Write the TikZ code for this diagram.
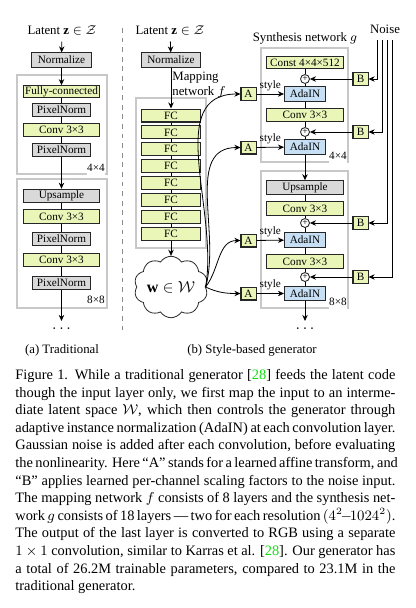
\documentclass[tikz,border=0pt]{standalone}
\usepackage{fontspec}
\setmainfont{Liberation Serif}
\usetikzlibrary{arrows.meta,shapes.symbols}
\definecolor{Lime}{HTML}{EAF6B8}
\definecolor{Sky}{HTML}{C6DFF4}
\definecolor{Ash}{HTML}{D9D9D9}
\definecolor{Rim}{HTML}{C8C8C8}
\definecolor{Cite}{HTML}{10E010}
\newcommand{\capline}[1]{\hbox to 237.5pt{#1}}

\begin{document}
\begin{tikzpicture}[x=0.625pt,y=-0.625pt,line width=.5pt,
>={Stealth[length=3.8pt,width=3.4pt]},
box/.style={draw=black!85,line width=.65pt,fill=#1,inner sep=0pt,minimum height=8.4pt,
  font=\fontsize{7}{8}\selectfont},
gbox/.style={box=Ash},
lbox/.style={box=Lime},
bbox/.style={box=Sky},
wide/.style={minimum width=48pt},
mid/.style={minimum width=36pt},
narrow/.style={minimum width=25.6pt},
tiny/.style={minimum width=9.4pt,minimum height=8.1pt},
frame/.style={draw=Rim,line width=.8pt},
sum/.style={draw=black!85,line width=.55pt,circle,fill=white,inner sep=0pt,minimum size=5.6pt,
  font=\fontsize{6}{6}\selectfont},
lbl/.style={font=\fontsize{8}{9.5}\selectfont},
dots/.style={font=\fontsize{10}{10}\selectfont}]
\useasboundingbox (0,0) rectangle (415,608);

% (a) traditional
\draw[frame] (17,75) rectangle (107,174);
\draw[frame] (17,179) rectangle (107,308);
\path
(62,31) node[lbl] (latA) {Latent $\mathbf{z}\in\mathcal{Z}$}
(61.5,60) node[gbox,minimum width=37pt,minimum height=8.8pt] (normA) {Normalize}
(61.5,91.5) node[lbox,wide,minimum height=7.2pt] (fcA) {Fully-connected}
(61.5,110) node[gbox,mid] (pnA1) {PixelNorm}
(61.5,130) node[lbox,wide] (cvA1) {Conv 3×3}
(61.5,150) node[gbox,mid] (pnA2) {PixelNorm}
(96,168) node[box=white,draw=none] {4×4}
(61.5,196) node[gbox,wide] (upA) {Upsample}
(61.5,216.5) node[lbox,wide] (cvA2) {Conv 3×3}
(61.5,239) node[gbox,mid] (pnA3) {PixelNorm}
(61.5,260) node[lbox,wide] (cvA3) {Conv 3×3}
(61.5,283) node[gbox,mid] (pnA4) {PixelNorm}
(96,300) node[box=white,draw=none] {8×8}
(61.5,329) node[dots] (dotA) {$\dots$}
(62,350) node[lbl] (capA) {(a) Traditional}
;
\coordinate (endA) at (61.5,321);
\draw[->] (latA) -- (normA);
\draw[->] (normA) -- (fcA);
\draw (fcA) -- (pnA1) -- (cvA1) -- (pnA2);
\draw[->] (pnA2) -- (upA);
\draw (upA) -- (cvA2) -- (pnA3) -- (cvA3) -- (pnA4);
\draw[->] (pnA4) -- (endA);

\draw[dashed,black!45] (122,28) -- (122,333);

% (b) mapping network
\draw[frame] (136,98) rectangle (206,248);
\path
(170,31) node[lbl] (latB) {Latent $\mathbf{z}\in\mathcal{Z}$}
(171,60) node[gbox,minimum width=37pt,minimum height=8.8pt] (normB) {Normalize}
(172,85) node[lbl,anchor=west,align=left,inner sep=0pt] (mapB) {Mapping\\network $f$}
(171,287) node[draw=black!85,cloud,cloud puffs=10,cloud puff arc=115,aspect=1.3,
  minimum width=44pt,minimum height=35pt,inner sep=0pt,
  font=\fontsize{10}{10}\selectfont] (wB) {$\mathbf{w}\in\mathcal{W}$}
;
\foreach \i in {1,...,8}
  \node[lbox,minimum width=36.3pt,minimum height=8.1pt] (fc\i) at (171,98.6+16.9*\i) {FC};
\foreach \i [count=\j from 2] in {1,...,7}
  \draw (fc\i) -- (fc\j);
\draw[->] (latB) -- (normB);
\draw[->] (normB) -- (fc1);
\draw[->] (fc8) -- (wB);

% (b) synthesis network
\draw[frame] (261,48) rectangle (348,162);
\draw[frame] (261,171) rectangle (348,308);
\path
(305,38) node[lbl] (synB) {Synthesis network $g$}
(385,29) node[lbl] (noise) {Noise}
(305,62.5) node[lbox,wide,minimum height=7.2pt] (const) {Const 4×4×512}
(305,79) node[sum] (sum1) {+}
(305,94) node[bbox,narrow,minimum height=8.8pt] (ada1) {AdaIN}
(305,115) node[lbox,wide] (cvS1) {Conv 3×3}
(305,132) node[sum] (sum2) {+}
(305,147) node[bbox,narrow,minimum height=8.8pt] (ada2) {AdaIN}
(338,156) node[box=white,draw=none] {4×4}
(305,187.5) node[gbox,wide] (upS) {Upsample}
(305,208.5) node[lbox,wide] (cvS2) {Conv 3×3}
(305,223) node[sum] (sum3) {+}
(305,240) node[bbox,narrow,minimum height=8.8pt] (ada3) {AdaIN}
(305,261.5) node[lbox,wide] (cvS3) {Conv 3×3}
(305,277) node[sum] (sum4) {+}
(305,293.5) node[bbox,narrow,minimum height=8.8pt] (ada4) {AdaIN}
(338,302) node[box=white,draw=none] {8×8}
(305,329) node[dots] (dotB) {$\dots$}
(252,350) node[lbl] (capB) {(b) Style-based generator}
(248.5,94) node[lbox,tiny] (A1) {A}
(248.5,147.5) node[lbox,tiny] (A2) {A}
(248.5,240.5) node[lbox,tiny] (A3) {A}
(248.5,293.5) node[lbox,tiny] (A4) {A}
(360.5,79) node[lbox,tiny] (B1) {B}
(360.5,132) node[lbox,tiny] (B2) {B}
(360.5,223) node[lbox,tiny] (B3) {B}
(360.5,277) node[lbox,tiny] (B4) {B}
;
\coordinate (endB) at (305,321);
\draw (const) -- (sum1) -- (ada1) -- (cvS1) -- (sum2) -- (ada2);
\draw[->] (ada2) -- (upS);
\draw (upS) -- (cvS2) -- (sum3) -- (ada3) -- (cvS3) -- (sum4) -- (ada4);
\draw[->] (ada4) -- (endB);

\foreach \x [count=\i] in {377,382,387,392}
  \coordinate (n\i) at (\x,40);
\foreach \i/\o in {1/80,2/74,3/52,4/-25}{
  \draw[->] (n\i) |- (B\i);
  \draw[->] (B\i) -- (sum\i);
  \draw[->] (A\i) -- node[above=-1.5pt,font=\fontsize{7}{8}\selectfont]{style} (ada\i);
  \draw[->] (wB.east) to[out=\o,in=180] (A\i);
}

% caption
\node[anchor=north west,inner sep=0pt,align=left,font=\fontsize{9}{11}\selectfont] (cap) at (15,369) {%
\capline{Figure 1. While a traditional generator [\textcolor{Cite}{28}] feeds the latent code}\\
\capline{though the input layer only, we first map the input to an interme-}\\
\capline{diate latent space $\mathcal{W}$, which then controls the generator through}\\
\capline{adaptive instance normalization (AdaIN) at each convolution layer.}\\
\capline{Gaussian noise is added after each convolution, before evaluating}\\
\capline{the nonlinearity. Here ``A'' stands for a learned affine transform, and}\\
\capline{``B'' applies learned per-channel scaling factors to the noise input.}\\
\capline{The mapping network $f$ consists of 8 layers and the synthesis net-}\\
\capline{work $g$ consists of 18 layers --- two for each resolution $(4^2\!-\!1024^2)$.}\\
\capline{The output of the last layer is converted to RGB using a separate}\\
\capline{$1\times1$ convolution, similar to Karras et al. [\textcolor{Cite}{28}]. Our generator has}\\
\capline{a total of 26.2M trainable parameters, compared to 23.1M in the}\\
traditional generator.};
\end{tikzpicture}
\end{document}
